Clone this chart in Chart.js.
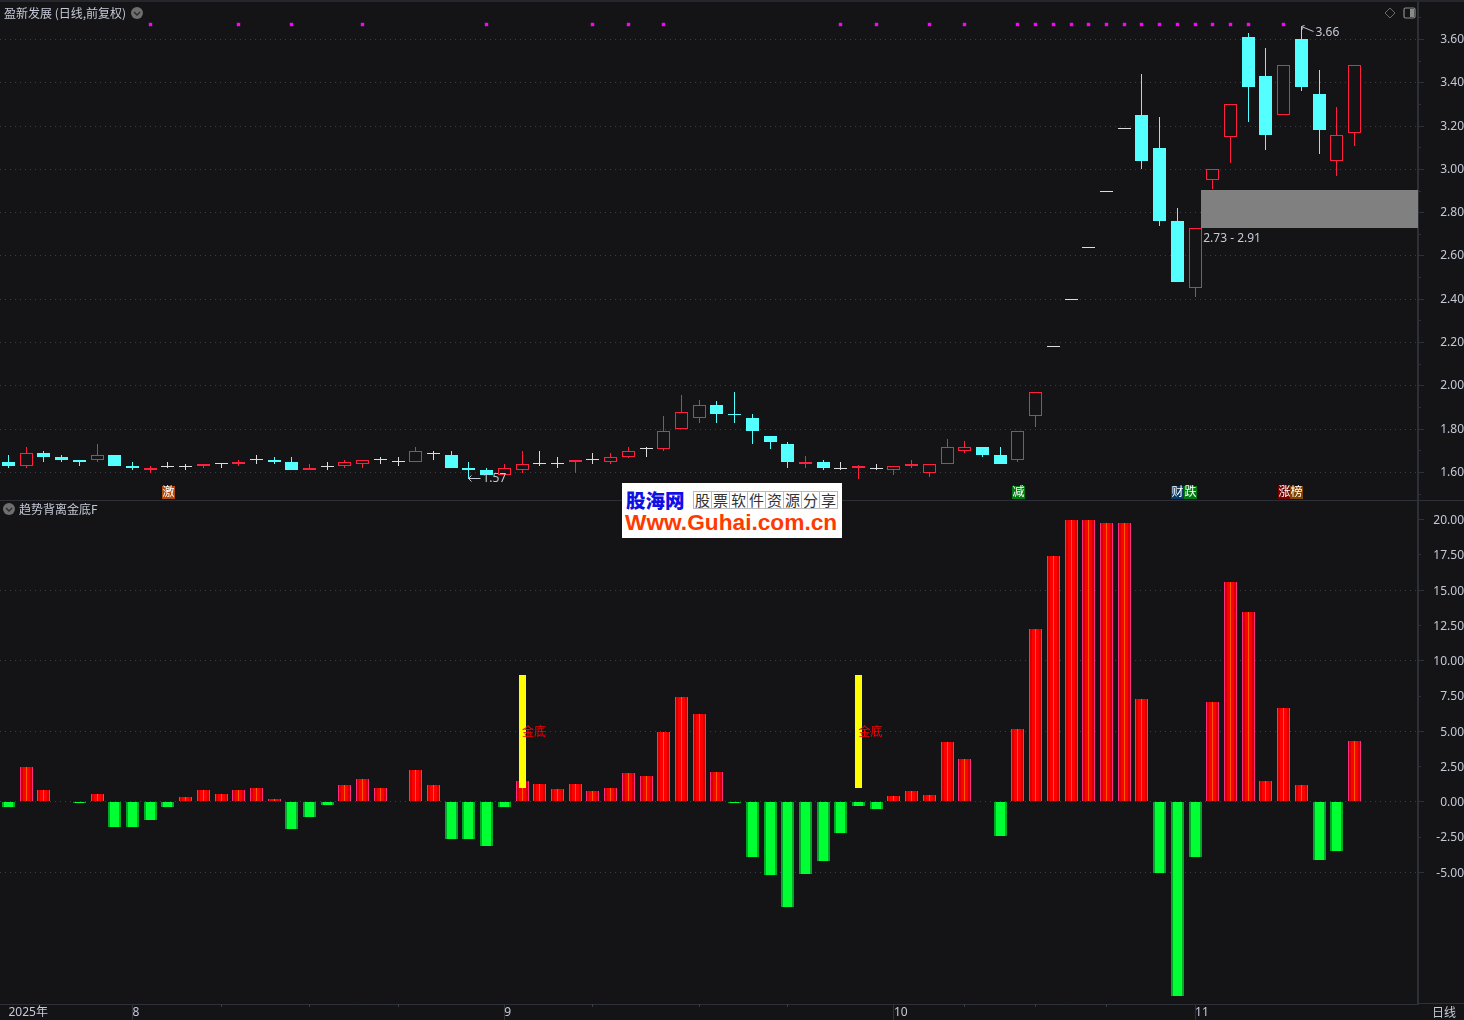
<!DOCTYPE html>
<html>
<head>
<meta charset="utf-8">
<title>盈新发展</title>
<script src="https://cdn.jsdelivr.net/npm/chart.js@4"></script>
<style>
  html, body { margin: 0; padding: 0; background: #141416; overflow: hidden; }
  #page { position: relative; width: 1464px; height: 1020px; background: #141416; overflow: hidden;
          font-family: "Noto Sans CJK SC", "Noto Sans", sans-serif; }
  canvas { position: absolute; left: 0; }
  .txt { position: absolute; font-size: 12px; line-height: 16px; color: #c4c9d6; white-space: nowrap; }
  .line { position: absolute; background: #2d3039; }
  .icon { position: absolute; }
  #logo { position: absolute; left: 622px; top: 483px; width: 220px; height: 55px; background: #fff; }
  #logo .name { position: absolute; left: 4px; top: 5px; font-size: 19.5px; line-height: 24px; font-weight: 900; color: #0f0fe6; white-space: nowrap; }
  #logo .cells { position: absolute; left: 71px; top: 8px; display: flex; border-left: 1px solid #bbb; border-top: 1px solid #bbb; }
  #logo .cells span { width: 17px; height: 16px; border-right: 1px solid #bbb; border-bottom: 1px solid #bbb; font-size: 15px; line-height: 16px; text-align: center; color: #333; }
  #logo .url { position: absolute; left: 3px; top: 27px; font: bold 22.7px/24px "Liberation Sans", sans-serif; color: #ff3a00; white-space: nowrap; }
</style>
</head>
<body>
<div id="page">
  <canvas id="priceChart" width="1464" height="500" style="top:0"></canvas>
  <canvas id="indicatorChart" width="1464" height="520" style="top:500px"></canvas>

  <div class="line" style="left:0;top:0;width:1464px;height:2px;background:#26272c"></div>
  <div class="line" style="left:0;top:500px;width:1464px;height:1px"></div>
  <div class="line" style="left:1418px;top:1003px;width:46px;height:1px"></div>

  <div class="txt" style="left:4px;top:5px">盈新发展 (日线,前复权)</div>
  <svg class="icon" style="left:131px;top:7px" width="12" height="12"><circle cx="6" cy="6" r="6" fill="#6e6e6e"/><path d="M3 5 L6 8 L9 5" fill="none" stroke="#2a2a2a" stroke-width="1.4"/></svg>
  <svg class="icon" style="left:1384px;top:7px" width="12" height="12"><path d="M6 1 L11 6 L6 11 L1 6 Z" fill="none" stroke="#6a6a6a"/></svg>
  <svg class="icon" style="left:1403px;top:7px" width="13" height="12"><rect x="1" y="1" width="11" height="10" rx="1.5" fill="none" stroke="#8a8a8a" stroke-width="1.2"/><rect x="7" y="2" width="4" height="8" fill="#8a8a8a"/></svg>

  <svg class="icon" style="left:3px;top:503px" width="12" height="12"><circle cx="6" cy="6" r="6" fill="#6e6e6e"/><path d="M3 5 L6 8 L9 5" fill="none" stroke="#2a2a2a" stroke-width="1.4"/></svg>
  <div class="txt" style="left:19px;top:501px">趋势背离金底F</div>
  <div class="txt" style="left:1432px;top:1004px">日线</div>

  <div id="logo">
    <div class="name">股海网</div>
    <div class="cells"><span>股</span><span>票</span><span>软</span><span>件</span><span>资</span><span>源</span><span>分</span><span>享</span></div>
    <div class="url">Www.Guhai.com.cn</div>
  </div>
</div>

<script>
// daily candles
const opens  = [1.65,1.63,1.69,1.67,1.66,1.66,1.68,1.63,1.61,1.63,1.63,1.63,1.64,1.64,1.66,1.66,1.65,1.61,1.63,1.63,1.64,1.66,1.65,1.65,1.69,1.68,1.62,1.61,1.59,1.61,1.64,1.64,1.65,1.66,1.65,1.67,1.71,1.71,1.80,1.85,1.91,1.87,1.85,1.77,1.73,1.64,1.65,1.62,1.62,1.62,1.61,1.63,1.60,1.64,1.70,1.72,1.68,1.66,1.86,2.18,2.40,2.64,2.90,3.19,3.25,3.10,2.76,2.45,2.95,3.15,3.61,3.43,3.25,3.60,3.35,3.04,3.17];
const highs  = [1.68,1.72,1.70,1.68,1.66,1.73,1.68,1.65,1.63,1.65,1.64,1.64,1.64,1.66,1.68,1.67,1.67,1.64,1.65,1.66,1.66,1.67,1.67,1.72,1.70,1.70,1.65,1.62,1.64,1.70,1.70,1.67,1.66,1.69,1.69,1.72,1.72,1.86,1.96,1.935,1.93,1.97,1.87,1.77,1.74,1.675,1.66,1.65,1.635,1.64,1.63,1.66,1.64,1.755,1.745,1.72,1.72,1.79,1.97,2.18,2.40,2.64,2.90,3.19,3.44,3.24,2.82,2.73,3.00,3.30,3.63,3.56,3.48,3.66,3.46,3.29,3.48];
const lows   = [1.62,1.62,1.65,1.65,1.63,1.65,1.63,1.61,1.60,1.62,1.61,1.62,1.62,1.63,1.64,1.64,1.61,1.61,1.61,1.62,1.62,1.64,1.63,1.65,1.66,1.62,1.57,1.59,1.59,1.60,1.63,1.62,1.60,1.64,1.64,1.665,1.67,1.70,1.80,1.83,1.83,1.83,1.73,1.71,1.62,1.62,1.61,1.61,1.57,1.61,1.59,1.62,1.58,1.64,1.69,1.67,1.64,1.65,1.81,2.18,2.40,2.64,2.90,3.19,3.00,2.74,2.48,2.41,2.91,3.03,3.22,3.09,3.25,3.36,3.07,2.97,3.11];
const closes = [1.63,1.69,1.67,1.66,1.65,1.68,1.63,1.62,1.62,1.63,1.63,1.64,1.64,1.65,1.66,1.65,1.61,1.62,1.63,1.65,1.66,1.66,1.65,1.70,1.69,1.62,1.61,1.59,1.62,1.64,1.64,1.64,1.66,1.66,1.67,1.70,1.71,1.79,1.88,1.91,1.87,1.865,1.79,1.74,1.65,1.65,1.62,1.62,1.63,1.62,1.63,1.64,1.64,1.72,1.72,1.68,1.64,1.79,1.97,2.18,2.40,2.64,2.90,3.19,3.04,2.76,2.48,2.73,3.00,3.30,3.38,3.16,3.48,3.38,3.18,3.16,3.48];

// indicator histogram, null where the picture shows no bar
const indicatorValues = [-0.40,2.50,0.80,null,-0.12,0.52,-1.82,-1.82,-1.32,-0.40,0.31,0.80,0.52,0.80,1.01,0.17,-1.96,-1.11,-0.26,1.16,1.65,1.01,null,2.22,1.16,-2.66,-2.66,-3.16,-0.40,1.48,1.27,0.92,1.27,0.78,0.99,2.05,1.84,4.95,7.43,6.22,2.12,-0.08,-3.89,-5.16,-7.43,-5.09,-4.17,-2.19,-0.28,-0.50,0.42,0.78,0.50,4.24,3.04,null,-2.40,5.16,12.23,17.40,20.00,20.00,19.80,19.80,7.28,-5.02,-13.77,-3.89,7.07,15.56,13.44,1.48,6.65,1.20,-4.10,-3.47,4.31];

// signal bars (金底)
const signalIdx = [29, 48];
const signalLow = [1.0, 1.0];
const signalHigh = [9.0, 9.0];
const signalText = '金底';

// magenta markers along the top of the price pane
const markerIdx = [8,13,16,20,27,33,35,37,47,49,52,54,57,58,59,60,61,62,63,64,65,66,67,68,69,70,72];
const markerLevel = 3.67;

// gap zone
const gapStartIdx = 67.35;
const gapLow = 2.73;
const gapHigh = 2.905;
const gapLabel = '2.73 - 2.91';

// extremes
const lowIdx = 26, lowLabel = '1.57';
const highIdx = 73, highLabel = '3.66';

// event badges
const badgeIdx = [9, 57, 66, 66.7, 72, 72.7];
const badgeText = ['激', '减', '财', '跌', '涨', '榜'];
const badgeColor = ['#b04c10', '#007a10', '#0b3a68', '#007a10', '#7c0000', '#804400'];

// axes
const priceTicks = [1.6,1.8,2.0,2.2,2.4,2.6,2.8,3.0,3.2,3.4,3.6];
const priceMinorTicks = [1.5,1.7,1.9,2.1,2.3,2.5,2.7,2.9,3.1,3.3,3.5,3.7];
const indicatorTicks = [-5,-2.5,0,2.5,5,7.5,10,12.5,15,17.5,20];
const monthIdx = [0, 7, 28, 50, 67];
const monthLabels = ['2025年', '8', '9', '10', '11'];
const weekIdx = [12,17,22,33,39,44,54,58,62];

const RED = '#ff2040';
const CYAN = '#54ffff';
const WHITE = '#dcdcdc';
const BG = '#141416';
const TICK = '#2d3039';
const DOT = '#3c3e46';
const LABEL = '#c4c9d6';
const FONT = '"Noto Sans", "Noto Sans CJK SC", sans-serif';

// candle x range so that the index axis lands on the picture's column pitch
const xMin = -0.48, xMax = 79.59;

const isDoji = i => opens[i] === closes[i];
const isUp = i => closes[i] > opens[i];
const idx = opens.map((_, i) => i);

function xy(list, filter, value) {
  return list.filter(filter).map(i => ({ x: i, y: value(i) }));
}

// crisp pixel edges, the terminal draws on whole pixels
const snapPlugin = {
  id: 'snap',
  afterDatasetsUpdate(chart) {
    chart.getSortedVisibleDatasetMetas().forEach(meta => {
      meta.data.forEach(el => {
        if (el.skip || el.x == null) return;
        el.x = Math.floor(el.x) + 0.5;
        if (meta.type === 'bar') {
          el.y = Math.round(el.y);
          el.base = Math.round(el.base);
        } else {
          el.y = Math.floor(el.y) + 0.5;
        }
      });
    });
  }
};

function shortTicks(ctx, yScale, values) {
  ctx.strokeStyle = TICK;
  ctx.lineWidth = 1;
  values.forEach(v => {
    const y = Math.floor(yScale.getPixelForValue(v)) + 0.5;
    ctx.beginPath();
    ctx.moveTo(yScale.left + 1, y);
    ctx.lineTo(yScale.left + 3, y);
    ctx.stroke();
  });
}

const pricePlugin = {
  id: 'priceExtras',
  beforeDatasetsDraw(chart) {
    const { ctx, scales: { x, y } } = chart;
    const left = Math.round(x.getPixelForValue(gapStartIdx));
    const top = Math.round(y.getPixelForValue(gapHigh));
    const bottom = Math.round(y.getPixelForValue(gapLow));
    ctx.fillStyle = '#808080';
    ctx.fillRect(left, top, x.right - left, bottom - top);
  },
  afterDraw(chart) {
    const { ctx, scales: { x, y } } = chart;
    shortTicks(ctx, y, priceMinorTicks);
    ctx.font = '12px ' + FONT;
    ctx.textBaseline = 'middle';
    ctx.textAlign = 'left';
    ctx.fillStyle = LABEL;
    ctx.strokeStyle = LABEL;
    ctx.lineWidth = 1;

    ctx.fillText(gapLabel, x.getPixelForValue(gapStartIdx) + 2, y.getPixelForValue(gapLow) + 11);

    // low arrow
    const lx = Math.floor(x.getPixelForValue(lowIdx)) + 0.5;
    const ly = Math.floor(y.getPixelForValue(Math.min(...lows))) + 0.5;
    ctx.beginPath();
    ctx.moveTo(lx + 12, ly);
    ctx.lineTo(lx, ly);
    ctx.moveTo(lx + 3, ly - 3);
    ctx.lineTo(lx, ly);
    ctx.lineTo(lx + 3, ly + 3);
    ctx.stroke();
    ctx.fillText(lowLabel, lx + 14, ly);

    // high arrow
    const hx = Math.floor(x.getPixelForValue(highIdx)) + 0.5;
    const hy = Math.floor(y.getPixelForValue(Math.max(...highs))) + 0.5;
    ctx.beginPath();
    ctx.moveTo(hx, hy);
    ctx.lineTo(hx + 3, hy - 1);
    ctx.moveTo(hx, hy);
    ctx.lineTo(hx + 1, hy + 3);
    ctx.moveTo(hx, hy);
    ctx.lineTo(hx + 12, hy + 5);
    ctx.stroke();
    ctx.fillText(highLabel, hx + 14, hy + 6);

    // badges just above the pane edge
    ctx.textAlign = 'center';
    badgeIdx.forEach((b, i) => {
      const cx = Math.round(x.getPixelForValue(b));
      ctx.fillStyle = badgeColor[i];
      ctx.fillRect(cx - 6, 486, 13, 13);
      ctx.fillStyle = '#ffffff';
      ctx.fillText(badgeText[i], cx + 0.5, 492.5);
    });
  }
};

const indicatorPlugin = {
  id: 'indicatorExtras',
  afterDraw(chart) {
    const { ctx, scales: { x, y } } = chart;
    shortTicks(ctx, y, indicatorTicks.filter(v => v % 5 !== 0));
    // small day ticks on the date axis
    ctx.strokeStyle = '#3a3d47';
    weekIdx.forEach(i => {
      const px = Math.floor(x.getPixelForValue(i)) + 0.5;
      ctx.beginPath();
      ctx.moveTo(px, x.top);
      ctx.lineTo(px, x.top + 3);
      ctx.stroke();
    });
    ctx.font = '12px "Noto Sans CJK SC", sans-serif';
    ctx.fillStyle = '#ff0000';
    ctx.textAlign = 'left';
    ctx.textBaseline = 'middle';
    signalIdx.forEach(i => {
      ctx.fillText(signalText, x.getPixelForValue(i), y.getPixelForValue(5));
    });
  }
};

// no label margins, both panes run edge to edge
function clearPadding(s) {
  s.paddingTop = 0;
  s.paddingBottom = 0;
  s.paddingLeft = 0;
  s.paddingRight = 0;
}

function yAxisBase() {
  return {
    position: 'right',
    border: { color: TICK, width: 2, dash: [1, 4] },
    ticks: {
      color: LABEL,
      crossAlign: 'far',
      padding: 2,
      font: { family: FONT, size: 12 },
      callback: v => v.toFixed(2)
    },
    afterFit: s => { s.width = 46; clearPadding(s); }
  };
}

const priceY = yAxisBase();
priceY.min = 1.473;
priceY.max = 3.7824;
priceY.afterBuildTicks = s => { s.ticks = priceTicks.map(v => ({ value: v })); };
priceY.grid = { color: DOT, tickColor: TICK, tickLength: 6 };

new Chart(document.getElementById('priceChart'), {
  type: 'bar',
  plugins: [snapPlugin, pricePlugin],
  data: {
    datasets: [
      {
        label: 'wick', order: 9, grouped: false, barThickness: 1,
        data: idx.map(i => ({ x: i, y: [lows[i], highs[i]] })),
        backgroundColor: c => isDoji(c.dataIndex) ? WHITE : (isUp(c.dataIndex) ? RED : CYAN)
      },
      {
        label: 'up', order: 5, grouped: false, barThickness: 13, borderWidth: 1, borderSkipped: false,
        data: xy(idx, i => isUp(i), i => [opens[i], closes[i]]),
        backgroundColor: BG, borderColor: RED
      },
      {
        label: 'down', order: 4, grouped: false, barThickness: 13,
        data: xy(idx, i => closes[i] < opens[i], i => [closes[i], opens[i]]),
        backgroundColor: CYAN
      },
      {
        label: 'flat', type: 'scatter', order: 2,
        data: xy(idx, i => isDoji(i), i => closes[i]),
        pointStyle: 'line', pointRadius: 6.5, borderWidth: 1, pointBorderColor: WHITE, pointBorderWidth: 1
      },
      {
        label: 'marker', type: 'scatter', order: 1,
        data: markerIdx.map(i => ({ x: i, y: markerLevel })),
        pointStyle: 'rect', pointRadius: 2.4, pointBackgroundColor: '#ff00ff', pointBorderWidth: 0
      }
    ]
  },
  options: {
    responsive: false,
    animation: false,
    events: [],
    layout: { padding: 0, autoPadding: false },
    datasets: { bar: { inflateAmount: 0 } },
    plugins: { legend: { display: false }, tooltip: { enabled: false } },
    scales: {
      x: { type: 'linear', min: xMin, max: xMax, offset: false, display: false, afterFit: clearPadding },
      y: priceY
    }
  }
});

const indicatorY = yAxisBase();
indicatorY.min = -14.34;
indicatorY.max = 21.40;
indicatorY.ticks.labelOffset = 1;
indicatorY.afterBuildTicks = s => { s.ticks = indicatorTicks.map(v => ({ value: v })); };
indicatorY.grid = {
  color: c => (c.tick && c.tick.value % 5 === 0 && c.tick.value !== 20) ? DOT : 'transparent',
  tickColor: c => (c.tick && c.tick.value % 5 === 0) ? TICK : 'transparent',
  tickLength: 6
};

function hist(filter, order, thickness, color) {
  return {
    order: order, grouped: false, barThickness: thickness, backgroundColor: color,
    data: idx.filter(i => indicatorValues[i] !== null && filter(indicatorValues[i])).map(i => ({ x: i, y: indicatorValues[i] }))
  };
}

const isPos = v => v > 0;
const isNeg = v => v < 0;

new Chart(document.getElementById('indicatorChart'), {
  type: 'bar',
  plugins: [snapPlugin, indicatorPlugin],
  data: {
    datasets: [
      hist(isPos, 9, 13, '#ff2d7d'),
      hist(isPos, 8, 11, '#d40000'),
      hist(isPos, 7, 7, '#ff0000'),
      hist(isPos, 6, 1, '#ff5a00'),
      hist(isNeg, 9, 13, '#00a828'),
      hist(isNeg, 8, 9, '#00ff33'),
      {
        label: 'signal', order: 1, grouped: false, barThickness: 7,
        data: signalIdx.map((s, i) => ({ x: s, y: [signalLow[i], signalHigh[i]] })),
        backgroundColor: '#ffff00'
      }
    ]
  },
  options: {
    responsive: false,
    animation: false,
    events: [],
    layout: { padding: 0, autoPadding: false },
    datasets: { bar: { inflateAmount: 0 } },
    plugins: { legend: { display: false }, tooltip: { enabled: false } },
    scales: {
      x: {
        type: 'linear', min: xMin, max: xMax, position: 'bottom', offset: false,
        border: { color: TICK, width: 1 },
        grid: {
          offset: false, drawOnChartArea: false, tickLength: 16,
          tickColor: c => (c.tick && c.tick.value === monthIdx[0]) ? 'transparent' : TICK
        },
        ticks: {
          color: LABEL, align: 'start', padding: -15, labelOffset: 0, autoSkip: false, maxRotation: 0,
          font: { family: FONT, size: 12 },
          callback: v => monthLabels[monthIdx.indexOf(v)]
        },
        afterBuildTicks: s => { s.ticks = monthIdx.map(v => ({ value: v })); },
        afterFit: s => { s.height = 16; clearPadding(s); }
      },
      y: indicatorY
    }
  }
});
</script>
</body>
</html>
